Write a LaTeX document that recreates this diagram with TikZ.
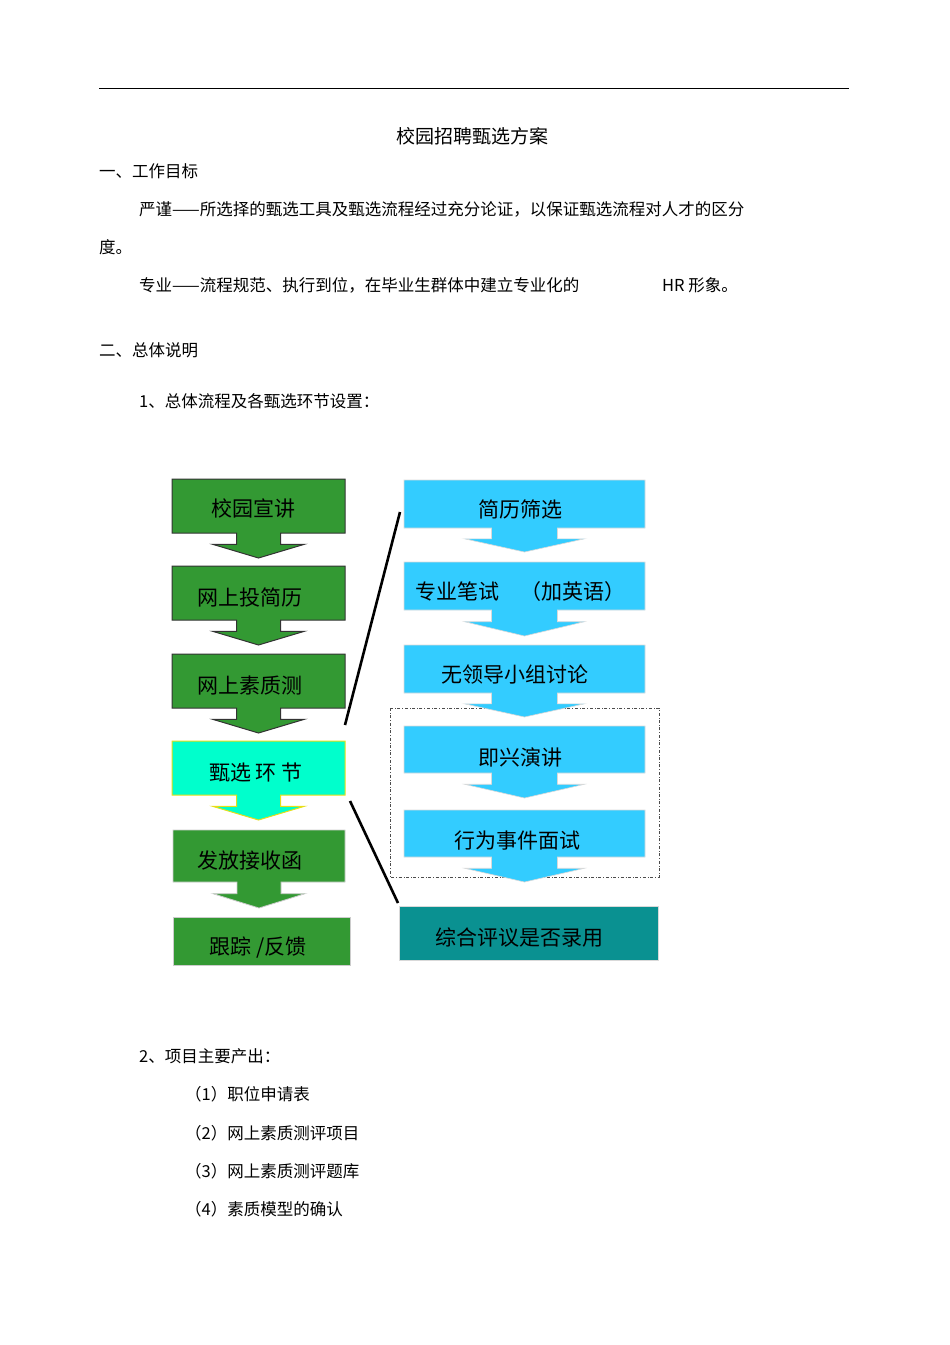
\documentclass[tikz,border=0pt]{standalone}
\usepackage{fontspec}
\setmainfont{Noto Sans CJK SC}
\begin{document}
\begin{tikzpicture}[x=1pt,y=-1pt,
  body/.style={anchor=west,inner sep=0pt,font=\fontsize{16.5}{18}\selectfont},
  boxtxt/.style={inner sep=0pt,font=\fontsize{21}{24}\selectfont},
  link/.style={line width=2.6pt,black}]
\definecolor{gr}{HTML}{339933}
\definecolor{bl}{HTML}{33CCFF}
\definecolor{cy}{HTML}{00FFCC}
\definecolor{tl}{HTML}{0A9191}
\useasboundingbox (0,0) rectangle (950,1345);
% arrow box: #1 x1,#2 y1,#3 x2,#4 y2,#5 tip y,#6 stem half,#7 head half,#8 style
\newcommand\arrbox[8]{%
  \pgfmathsetmacro\cx{(#1+#3)/2}%
  \pgfmathsetmacro\sy{#4+(#5-#4)*0.45}%
  \path[#8] (#1,#2) -- (#3,#2) -- (#3,#4) -- (\cx+#6,#4) -- (\cx+#6,\sy) -- (\cx+#7,\sy) -- (\cx,#5) -- (\cx-#7,\sy) -- (\cx-#6,\sy) -- (\cx-#6,#4) -- (#1,#4) -- cycle;}
\draw[line width=0.6pt] (99,88) -- (849,88);
\node[inner sep=0pt,font=\fontsize{19}{22}\selectfont] (title) at (472,136) {校园招聘甄选方案};
\node[body] (h1) at (99,171) {一、工作目标};
\node[body] (p1) at (139,209) {严谨——所选择的甄选工具及甄选流程经过充分论证，以保证甄选流程对人才的区分};
\node[body] (p1b) at (99,247) {度。};
\node[body] (p2) at (139,285) {专业——流程规范、执行到位，在毕业生群体中建立专业化的};
\node[body] (p2b) at (662,285) {HR 形象。};
\node[body] (h2) at (99,350) {二、总体说明};
\node[body] (s1) at (139,401) {1、总体流程及各甄选环节设置：};
% green column
\arrbox{172}{479}{345}{533}{558}{22}{46}{fill=gr,draw=black!80,line width=1pt}
\arrbox{172}{566}{345}{620}{645}{22}{46}{fill=gr,draw=black!80,line width=1pt}
\arrbox{172}{654}{345}{708}{733}{22}{46}{fill=gr,draw=black!80,line width=1pt}
\arrbox{172}{741}{345}{795}{820}{22}{46}{fill=cy,draw=yellow!90!black,line width=1pt}
\arrbox{173}{830}{345}{882}{908}{22}{46}{fill=gr,draw=gray!40,line width=0.8pt}
\path[fill=gr,draw=gray!40,line width=0.8pt] (173,917) rectangle (350,965);
\node[boxtxt] (g1) at (253,508) {校园宣讲};
\node[boxtxt] (g2) at (250,597) {网上投简历};
\node[boxtxt] (g3) at (250,685) {网上素质测};
\node[boxtxt] (g4) at (256,773) {甄选 环 节};
\node[boxtxt] (g5) at (250,860) {发放接收函};
\node[boxtxt] (g6) at (258,948) {跟踪 /反馈};
% blue column
\draw[dash dot,line width=0.7pt,gray!60!black] (390,708) rectangle (659,877);
\arrbox{404}{480}{645}{528}{552}{33}{60}{fill=bl,draw=white!85!black,line width=0.6pt}
\arrbox{404}{562}{645}{610}{636}{33}{60}{fill=bl,draw=white!85!black,line width=0.6pt}
\arrbox{404}{645}{645}{693}{717}{33}{60}{fill=bl,draw=white!85!black,line width=0.6pt}
\arrbox{404}{726}{645}{773}{798}{33}{60}{fill=bl,draw=white!85!black,line width=0.6pt}
\arrbox{404}{810}{645}{857}{882}{33}{60}{fill=bl,draw=white!85!black,line width=0.6pt}
\path[fill=tl,draw=gray!30,line width=0.6pt] (399,906) rectangle (658,960);
\node[boxtxt] (b1) at (520,509) {简历筛选};
\node[boxtxt] (b2) at (520,592) {专业笔试　（加英语）};
\node[boxtxt] (b3) at (515,675) {无领导小组讨论};
\node[boxtxt] (b4) at (520,757) {即兴演讲};
\node[boxtxt] (b5) at (517,841) {行为事件面试};
\node[boxtxt] (b6) at (519,938) {综合评议是否录用};
\coordinate (l1a) at (345,725); \coordinate (l1b) at (400,512);
\coordinate (l2a) at (350,801); \coordinate (l2b) at (398,903);
\draw[link] (l1a) -- (l1b);
\draw[link] (l2a) -- (l2b);
\node[body] (s2) at (139,1056) {2、项目主要产出：};
\node[body] (i1) at (185,1094) {（1）职位申请表};
\node[body] (i2) at (185,1133) {（2）网上素质测评项目};
\node[body] (i3) at (185,1171) {（3）网上素质测评题库};
\node[body] (i4) at (185,1209) {（4）素质模型的确认};
\end{tikzpicture}
\end{document}
